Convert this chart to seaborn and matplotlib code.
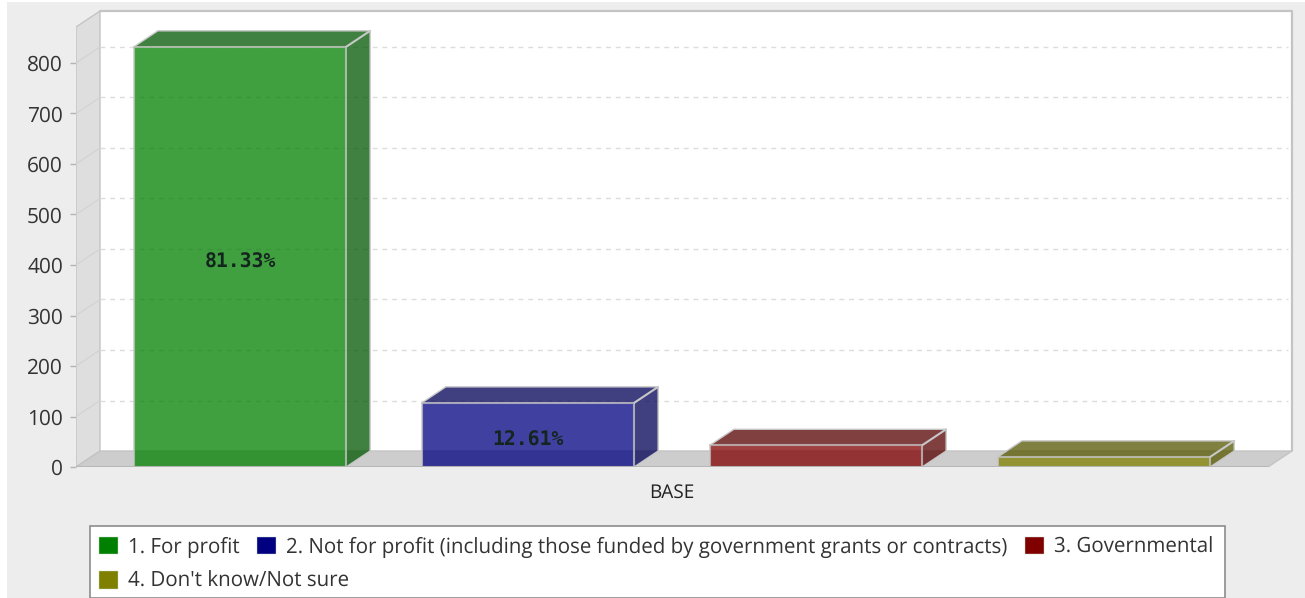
import matplotlib
matplotlib.use("Agg")
import matplotlib.pyplot as plt
import matplotlib.colors as mc
from matplotlib.patches import Patch, Rectangle
import pandas as pd
import seaborn as sns

series = ["1. For profit",
          "2. Not for profit (including those funded by government grants or contracts)",
          "3. Governmental",
          "4. Don't know/Not sure"]
values = [832, 127, 43, 20]
bar_labels = ["81.33%", "12.61%", "", ""]
colors = ["#008000", "#000080", "#800000", "#808000"]
category = ["BASE"]
y_ticks = [0, 100, 200, 300, 400, 500, 600, 700, 800]

W, H = 1305, 598
sns.set_theme(style="white")
plt.rcParams["font.family"] = ["Open Sans", "DejaVu Sans"]
plt.rcParams["text.hinting"] = "no_hinting"
fig = plt.figure(figsize=(W / 100, H / 100), dpi=100, facecolor="white")
fig.patches.append(Rectangle((7 / W, 0), 1, 1 - 2 / H, transform=fig.transFigure,
                             facecolor="#EDEDED", edgecolor="none", zorder=-10))

# Axes spans the whole pseudo-3D box; front plane is 76..1268 px wide
L, R, T, B = 76, 1292, 11, 467
ax = fig.add_axes([L / W, 1 - B / H, (R - L) / W, (B - T) / H])
ax.patch.set_alpha(0)
PX_X = 1192.0        # pixels per x unit
PX_Y = 0.505         # pixels per y unit
DX, DY = 24 / PX_X, 16 / PX_Y
x0 = -0.5
x1 = x0 + 1.0
ymax = (B - T) / PX_Y
ytop_front = ymax - DY

df = pd.DataFrame({"group": category * 4, "series": series, "value": values})
sns.barplot(data=df, x="group", y="value", hue="series", hue_order=series,
            palette=colors, saturation=1, width=1152 / 1192, gap=0.263, alpha=0.75, ax=ax,
            legend=False, edgecolor="#C8C8C8", linewidth=1.5, zorder=6)
ax.set_xlim(x0, x0 + (R - L) / PX_X)
ax.set_ylim(0, ymax)

# Walls and floor
ax.fill([x0 + DX, x1 + DX, x1 + DX, x0 + DX], [DY, DY, ymax, ymax],
        fc="white", ec="none", zorder=1)
ax.plot([x0 + DX, x1 + DX, x1 + DX], [ymax, ymax, DY], color="#C4C4C4", lw=1.6,
        clip_on=False, zorder=1.5)
ax.fill([x0, x0 + DX, x0 + DX, x0], [0, DY, ymax, ytop_front],
        fc="#DEDEDE", ec="#C4C4C4", lw=1.0, zorder=2)
ax.fill([x0, x0 + DX, x1 + DX, x1], [0, DY, DY, 0],
        fc="#CDCDCD", ec="#C4C4C4", lw=1.0, zorder=2)

# Gridlines on back wall and side wall
for t in y_ticks[1:]:
    ax.plot([x0 + DX, x1 + DX - 0.003], [t + DY, t + DY], color="#DCDCDC",
            lw=1, ls=(0, (3.5, 3.5)), zorder=3)
    ax.plot([x0, x0 + DX], [t, t + DY], color="#D2D2D2", lw=0.8, zorder=3)

# Pseudo-3D top and side of each bar
for container, col, lab in zip(ax.containers, colors, bar_labels):
    for bar in container:
        a, b = bar.get_x(), bar.get_x() + bar.get_width()
        h = bar.get_height()
        dark = tuple(c * 0.67 for c in mc.to_rgb(col))
        ax.fill([a, a + DX, b + DX, b], [h, h + DY, h + DY, h], fc=dark, alpha=0.75,
                ec="none", zorder=5)
        ax.fill([b, b + DX, b + DX, b], [0, DY, h + DY, h], fc=dark, alpha=0.75,
                ec="none", zorder=5)
        ax.plot([a, a + DX, b + DX, b + DX, b], [h, h + DY, h + DY, DY, 0],
                color="#C8C8C8", lw=1.0, zorder=5.5)
        ax.plot([b, b + DX], [h, h + DY], color="#C8C8C8", lw=1.5, zorder=5.5)
    ax.bar_label(container, labels=[lab], label_type="center", zorder=8,
                 family="DejaVu Sans Mono", fontweight="bold", fontsize=14.2,
                 color="#14241E", padding=-3.5)

for s in ax.spines.values():
    s.set_visible(False)
ax.set_xlabel("")
ax.set_ylabel("")
ax.set_yticks(y_ticks)
ax.set_xticks([0])
ax.set_xticklabels(category)
ax.tick_params(axis="y", length=4, width=1, color="#B4B4B4", pad=5.4,
               labelsize=15, labelcolor="#333333", left=True)
ax.tick_params(axis="x", length=0, pad=11.5, labelsize=13.7, labelcolor="#222222")
ax.plot([x0, x1], [0, 0], color="#B4B4B4", lw=1.2, zorder=6.5)

# Legend box and two rows
fig.patches.append(Rectangle((89.5 / W, 1 - 597.5 / H), 1135 / W, 72 / H, transform=fig.transFigure,
                             facecolor="white", edgecolor="#8C8C8C", lw=1.2, zorder=-5))
handles = [Patch(facecolor=c, edgecolor="#C8DCC8", lw=0.3) for c in colors]
common = dict(frameon=False, fontsize=14.78, handlelength=0.93, handleheight=0.93,
              handletextpad=0.47, columnspacing=0.86, borderpad=0, borderaxespad=0,
              labelcolor="#333333", loc="upper left")
fig.legend(handles[:3], series[:3], ncol=3,
           bbox_to_anchor=(99 / W, 1 - 536.5 / H), **common)
fig.legend(handles[3:], series[3:], ncol=1,
           bbox_to_anchor=(99 / W, 1 - 571 / H), **common)

fig.savefig("out.png", dpi=100, facecolor=fig.get_facecolor())
